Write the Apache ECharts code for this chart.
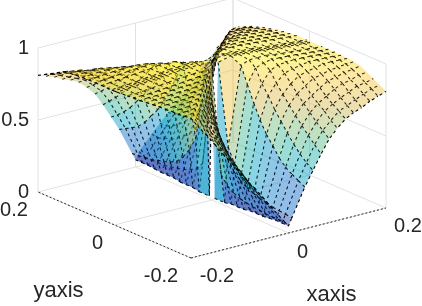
<!DOCTYPE html>
<html><head><meta charset="utf-8">
<style>html,body{margin:0;padding:0;background:#fff}#c{width:422px;height:306px}</style>
<script src="https://cdn.jsdelivr.net/npm/echarts@6/dist/echarts.min.js"></script>
</head><body><div id="c"></div>
<script>
var xTicks=[-0.2,0,0.2], yTicks=[-0.2,0,0.2], zTicks=[0,0.5,1];
var xTickLabels=['-0.2','0','0.2'], yTickLabels=['-0.2','0','0.2'], zTickLabels=['0','0.5','1'];
var xName='xaxis', yName='yaxis';
// distance from the centre line for each table row and column
var gridAbs=[0,.007,.0333,.05,.0667,.0833,.1,.1167,.1333,.15,.1667,.1833,.2];
// x and y of opposite sign: rows |y|, columns |x|
var zOpposite=[
[null,.98,.98,.975,.97,.97,.96,.955,.95,.945,.94,.935,.93],
[.02,.957,.98,.975,.97,.97,.96,.955,.95,.945,.94,.935,.93],
[.02,.40,.943,.967,.968,.97,.96,.955,.95,.945,.94,.935,.93],
[.03,.30,.83,.93,.95,.963,.957,.955,.95,.945,.94,.935,.93],
[.03,.23,.72,.84,.917,.94,.948,.95,.947,.945,.94,.935,.93],
[.03,.18,.62,.775,.85,.903,.92,.93,.94,.938,.936,.933,.927],
[.04,.155,.54,.70,.79,.85,.89,.905,.917,.93,.93,.927,.925],
[.04,.14,.48,.635,.735,.80,.84,.877,.89,.905,.91,.918,.92],
[.04,.13,.415,.575,.68,.75,.79,.83,.863,.875,.893,.90,.91],
[.045,.115,.37,.515,.63,.705,.755,.79,.825,.85,.86,.88,.885],
[.05,.11,.34,.465,.58,.66,.72,.755,.785,.81,.837,.845,.86],
[.05,.105,.315,.425,.535,.62,.675,.725,.75,.775,.80,.823,.835],
[.05,.10,.29,.39,.49,.58,.64,.69,.72,.74,.77,.79,.81]];
// x>0, y>0
var zBack=[
[null,.98,.98,.975,.97,.97,.96,.955,.95,.945,.94,.935,.93],
[.02,.955,.98,.975,.97,.97,.96,.955,.95,.945,.94,.935,.93],
[.02,.21,.94,.965,.965,.965,.96,.955,.95,.945,.94,.935,.93],
[.03,.15,.63,.925,.945,.955,.955,.95,.945,.94,.935,.93,.925],
[.03,.13,.47,.69,.915,.935,.945,.945,.94,.935,.93,.925,.92],
[.03,.11,.38,.55,.73,.90,.92,.93,.935,.93,.925,.92,.91],
[.04,.10,.32,.46,.60,.745,.885,.905,.915,.92,.915,.91,.90],
[.04,.09,.28,.40,.52,.635,.755,.875,.885,.90,.90,.90,.89],
[.04,.08,.245,.35,.45,.55,.655,.76,.86,.875,.885,.885,.875],
[.045,.08,.223,.312,.40,.49,.58,.67,.756,.845,.86,.865,.86],
[.05,.08,.21,.28,.36,.44,.52,.60,.67,.75,.83,.835,.84],
[.05,.08,.19,.26,.33,.40,.47,.54,.61,.675,.745,.815,.82],
[.08,.10,.20,.26,.32,.38,.44,.50,.56,.62,.68,.74,.80]];
// x<0, y<0
var zFront=[
[null,.98,.98,.975,.97,.97,.96,.955,.95,.945,.94,.935,.93],
[.02,.97,.975,.97,.97,.965,.96,.955,.95,.945,.94,.935,.93],
[.02,.22,.97,.97,.97,.965,.96,.955,.95,.945,.94,.935,.935],
[.02,.16,.65,.97,.97,.965,.96,.955,.95,.945,.94,.94,.94],
[.03,.13,.50,.74,.97,.965,.96,.96,.955,.95,.945,.945,.94],
[.03,.11,.41,.59,.78,.97,.965,.96,.96,.955,.95,.95,.945],
[.03,.10,.34,.50,.65,.81,.97,.965,.96,.96,.955,.95,.95],
[.04,.09,.30,.43,.57,.70,.84,.97,.965,.96,.96,.955,.955],
[.04,.09,.27,.39,.50,.62,.74,.85,.97,.965,.96,.96,.955],
[.04,.08,.25,.35,.45,.55,.66,.76,.87,.97,.965,.96,.96],
[.05,.08,.23,.32,.42,.51,.60,.69,.78,.88,.97,.965,.96],
[.05,.08,.22,.30,.38,.47,.55,.63,.72,.80,.89,.97,.965],
[.05,.08,.20,.28,.36,.43,.51,.59,.66,.74,.82,.89,.97]];

var xs=[],ys=[],n=gridAbs.length,i,j;
for(i=n-1;i>0;i--){xs.push(-gridAbs[i]);ys.push(-gridAbs[i]);}
for(i=0;i<n;i++){xs.push(gridAbs[i]);ys.push(gridAbs[i]);}
function zAt(ix,iy){
  var ax=Math.abs(ix-(n-1)),ay=Math.abs(iy-(n-1)),x=xs[ix],y=ys[iy];
  if(x>0&&y>0)return zBack[ay][ax];
  if(x<0&&y<0)return zFront[ay][ax];
  return zOpposite[ay][ax];
}
// projection from data space to the page plane
function project(x,y,z){
  var a=(x+0.2)/0.4,b=(y+0.2)/0.4;
  return [191+a*195-b*153, 258-a*50-b*66-z*144];
}
var stops=[[0,[50,45,150]],[.13,[25,85,190]],[.25,[20,125,205]],[.38,[6,167,198]],[.5,[56,185,158]],[.63,[146,191,115]],[.75,[217,186,86]],[.88,[252,206,60]],[1,[249,251,14]]];
function parula(z){
  z=Math.max(0,Math.min(1,z));
  for(var k=1;k<stops.length;k++){
    if(z<=stops[k][0]){
      var t=(z-stops[k-1][0])/(stops[k][0]-stops[k-1][0]),A=stops[k-1][1],B=stops[k][1];
      return [0,1,2].map(function(c){return Math.round(A[c]+(B[c]-A[c])*t);});
    }
  }
  return stops[stops.length-1][1];
}
var cells=[];
for(i=0;i<xs.length-1;i++)for(j=0;j<ys.length-1;j++){
  var q=[[i,j],[i+1,j],[i+1,j+1],[i,j+1]],pts=[],sum=0,ok=true;
  q.forEach(function(p){var z=zAt(p[0],p[1]);if(z===null)ok=false;else{pts.push([xs[p[0]],ys[p[1]],z]);sum+=z;}});
  if(ok)cells.push({pts:pts,z:sum/4,d:xs[i]+ys[j]});
}
cells.sort(function(a,b){return b.d-a.d;});

var lineC='#e2e2e2',axisC='#262626',textC='#262626',FONT='"Liberation Sans",Arial,sans-serif';
var wallLines=[];
zTicks.forEach(function(z){ if(z>0){
  wallLines.push([[-.2,.2,z],[.2,.2,z]]);
  wallLines.push([[.2,.2,z],[.2,-.2,z]]);
}});
xTicks.forEach(function(x){wallLines.push([[x,.2,0],[x,.2,1]]);wallLines.push([[x,-.2,0],[x,.2,0]]);});
yTicks.forEach(function(y){wallLines.push([[.2,y,0],[.2,y,1]]);wallLines.push([[-.2,y,0],[.2,y,0]]);});
var axisLines=[[[-.2,-.2,0],[-.2,.2,0]],[[-.2,-.2,0],[.2,-.2,0]]];
var labels=[];
zTicks.forEach(function(z,k){labels.push({p:[-.2,.2,z],dx:-9,dy:0,t:zTickLabels[k],s:20,al:'right'});});
var yOff=[[-30,18],[-17,18],[-24,18]];
yTicks.forEach(function(y,k){labels.push({p:[-.2,y,0],dx:yOff[k][0],dy:yOff[k][1],t:yTickLabels[k],s:20,al:'center'});});
var xOff=[[26,18],[14,19],[22,18]];
xTicks.forEach(function(x,k){labels.push({p:[x,-.2,0],dx:xOff[k][0],dy:xOff[k][1],t:xTickLabels[k],s:20,al:'center'});});
labels.push({p:[-.2,0,0],dx:-56,dy:66,t:yName,s:22,al:'center'});
labels.push({p:[0,-.2,0],dx:43,dy:62,t:xName,s:22,al:'center'});

function seg(api,l,color,dash,w){
  var a=api.coord(project.apply(null,l[0])),b=api.coord(project.apply(null,l[1]));
  return {type:'line',shape:{x1:a[0],y1:a[1],x2:b[0],y2:b[1]},style:{stroke:color,lineWidth:w,lineDash:dash||null,fill:null},silent:true};
}
function idx(a){return a.map(function(_,k){return k;});}
var chart=echarts.init(document.getElementById('c'),null,{renderer:'canvas'});
chart.setOption({
  animation:false,
  grid:{left:0,right:0,top:0,bottom:0},
  xAxis:{type:'value',min:0,max:422,show:false},
  yAxis:{type:'value',min:0,max:306,inverse:true,show:false},
  series:[
   {type:'custom',coordinateSystem:'cartesian2d',silent:true,clip:false,z:1,progressive:0,data:idx(wallLines),
    renderItem:function(p,api){return seg(api,wallLines[p.dataIndex],lineC,null,1);}},
   {type:'custom',coordinateSystem:'cartesian2d',silent:true,clip:false,z:2,progressive:0,data:idx(axisLines),
    renderItem:function(p,api){return seg(api,axisLines[p.dataIndex],axisC,[2,2],1);}},
   {type:'custom',coordinateSystem:'cartesian2d',silent:true,clip:false,z:3,progressive:0,data:idx(cells),
    renderItem:function(p,api){
      var c=cells[p.dataIndex],col=parula(c.z);
      var P=c.pts.map(function(q){return api.coord(project(q[0],q[1],q[2]));});
      return {type:'group',children:[
        {type:'polygon',shape:{points:P},style:{fill:'rgba('+col.join(',')+',0.47)',stroke:null}},
        {type:'polyline',shape:{points:[P[3],P[0],P[1]]},style:{fill:null,stroke:'#000',lineWidth:1.1,lineDash:[3,3]}}
      ]};
    }},
   {type:'custom',coordinateSystem:'cartesian2d',silent:true,clip:false,z:4,progressive:0,data:idx(labels),
    renderItem:function(p,api){
      var l=labels[p.dataIndex],a=api.coord(project.apply(null,l.p));
      return {type:'text',style:{x:a[0]+l.dx,y:a[1]+l.dy,text:l.t,fill:textC,font:l.s+'px '+FONT,align:l.al,verticalAlign:'middle'}};
    }}
  ]
});
</script></body></html>
